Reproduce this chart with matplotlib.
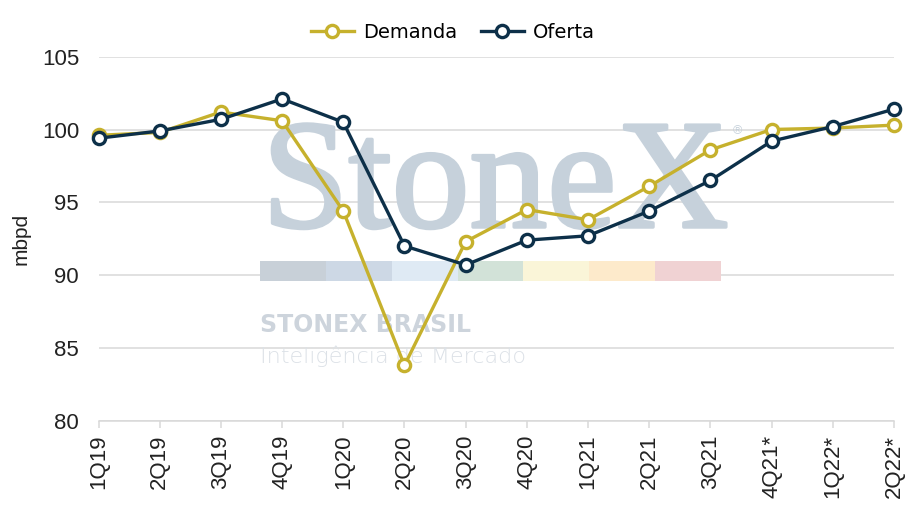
import matplotlib
matplotlib.use("Agg")
import matplotlib.pyplot as plt
import matplotlib.patheffects as pe
from matplotlib.patches import Rectangle

# dados (mbpd)
trimestres = ["1Q19", "2Q19", "3Q19", "4Q19", "1Q20", "2Q20", "3Q20",
              "4Q20", "1Q21", "2Q21", "3Q21", "4Q21*", "1Q22*", "2Q22*"]
demanda = [99.6, 99.8, 101.2, 100.6, 94.4, 83.8, 92.3,
           94.5, 93.8, 96.1, 98.6, 100.0, 100.1, 100.3]
oferta = [99.4, 99.9, 100.7, 102.1, 100.5, 92.0, 90.7,
          92.4, 92.7, 94.4, 96.5, 99.2, 100.2, 101.4]
y_ticks = [80, 85, 90, 95, 100, 105]

cor_demanda = "#C6B12D"
cor_oferta = "#0D3049"
cinza = "#D9D9D9"

plt.rcParams["font.family"] = ["Liberation Sans", "DejaVu Sans"]

fig = plt.figure(figsize=(9.06, 5.25), dpi=100)
ax = fig.add_axes([98.5 / 906, 1 - 420.7 / 525, 795.5 / 906, 364 / 525])

# marca d'agua StoneX
wm = "#C6D1DB"
ax.text(262 / 906, 1 - 227 / 525, "StoneX", transform=fig.transFigure,
        fontsize=112, family="Liberation Serif", color=wm,
        ha="left", va="baseline", zorder=1,
        path_effects=[pe.withStroke(linewidth=2.5, foreground=wm)])
ax.text(733 / 906, 1 - 134 / 525, "®", transform=fig.transFigure,
        fontsize=9, color=wm, ha="left", va="baseline", zorder=1)
faixas = ["#C8D0D8", "#CDD8E5", "#DFEAF4", "#D2E2D8", "#FAF5D8", "#FDEACB", "#F0D2D3"]
largura = (721 - 260) / 7
for i, c in enumerate(faixas):
    ax.add_patch(Rectangle(((260 + i * largura) / 906, 1 - 281 / 525),
                           largura / 906, 20 / 525, transform=fig.transFigure,
                           facecolor=c, edgecolor="none", zorder=1, clip_on=False))
ax.text(260 / 906, 1 - 332 / 525, "STONEX BRASIL", transform=fig.transFigure,
        fontsize=17, family="DejaVu Sans", weight="bold", color="#CDD4DC",
        ha="left", va="baseline", zorder=1)
ax.text(260 / 906, 1 - 363 / 525, "Inteligência de Mercado", transform=fig.transFigure,
        fontsize=16, family="DejaVu Sans", weight="light", color="#DCE1E7",
        ha="left", va="baseline", zorder=1)

x = list(range(len(trimestres)))
estilo = dict(linewidth=2.4, marker="o", markersize=8.8, markeredgewidth=2.4,
              markerfacecolor="white", clip_on=False, zorder=3)
ax.plot(x, demanda, color=cor_demanda, markeredgecolor=cor_demanda,
        label="Demanda", **estilo)
ax.plot(x, oferta, color=cor_oferta, markeredgecolor=cor_oferta,
        label="Oferta", **estilo)

ax.set_xlim(0, len(trimestres) - 1)
ax.set_ylim(80, 105)
ax.set_yticks(y_ticks)
ax.set_xticks(x)
ax.set_xticklabels(trimestres, rotation=90)
ax.grid(axis="y", color=cinza, linewidth=1.1)
ax.set_axisbelow(True)
for s in ["top", "right", "left"]:
    ax.spines[s].set_visible(False)
ax.spines["bottom"].set_color(cinza)
ax.spines["bottom"].set_linewidth(1.1)
ax.tick_params(axis="y", length=0, pad=14, labelsize=16, labelcolor="#222222")
ax.tick_params(axis="x", length=5, width=1.1, color=cinza, pad=5,
               labelsize=16, labelcolor="#222222")
ax.patch.set_alpha(0)

fig.text(21 / 906, 0.545, "mbpd", rotation=90, ha="center", va="center",
         fontsize=15, color="#222222")

fig.legend(loc="center", bbox_to_anchor=(0.5, 1 - 32.7 / 525), ncol=2,
           frameon=False, prop={"family": "DejaVu Sans", "size": 14},
           handlelength=2.2, handletextpad=0.5, columnspacing=1.2)

fig.savefig("out.png", dpi=100)
